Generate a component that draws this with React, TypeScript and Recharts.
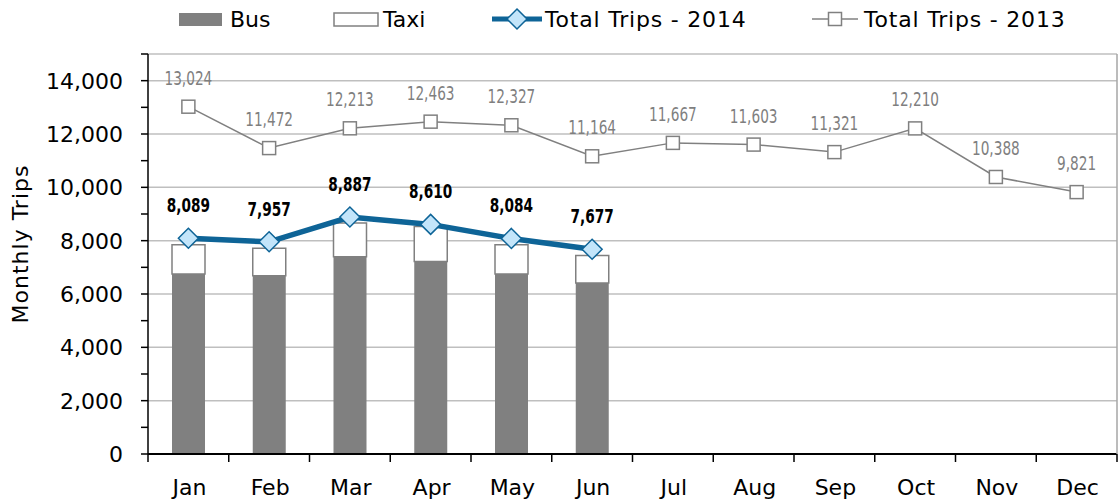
import { ComposedChart, Bar, Line, XAxis, YAxis, CartesianGrid, LabelList } from 'recharts';

const months = ['Jan', 'Feb', 'Mar', 'Apr', 'May', 'Jun', 'Jul', 'Aug', 'Sep', 'Oct', 'Nov', 'Dec'];
const bus = [6750, 6680, 7400, 7220, 6750, 6410, null, null, null, null, null, null];
const taxi = [1100, 1040, 1260, 1310, 1095, 1035, null, null, null, null, null, null];
const trips2014 = [8089, 7957, 8887, 8610, 8084, 7677, null, null, null, null, null, null];
const trips2013 = [13024, 11472, 12213, 12463, 12327, 11164, 11667, 11603, 11321, 12210, 10388, 9821];
const yTicks = [0, 1000, 2000, 3000, 4000, 5000, 6000, 7000, 8000, 9000, 10000, 11000, 12000, 13000, 14000, 15000];
const gridValues = [2000, 4000, 6000, 8000, 10000, 12000, 14000, 15000];

const data = months.map((m, i) => ({
  month: m,
  bus: bus[i],
  taxi: taxi[i],
  t2014: trips2014[i],
  t2013: trips2013[i],
}));

const FONT = "'DejaVu Sans', sans-serif";
const NARROW = "'DejaVu Sans Condensed', 'DejaVu Sans', sans-serif";
const BLUE = '#0E6497';
const GRAY = '#808080';

const fmt = (v: any) => (v == null ? '' : Number(v).toLocaleString('en-US'));

// condensed data label, squeezed horizontally like the original's narrow face
const makeLabel = (offset: number, fill: string, weight: string) => (p: any) => {
  if (p.value == null || p.x == null) return <g />;
  const cx = p.x + (p.width || 0) / 2;
  const cy = p.y - offset;
  return (
    <text
      transform={`translate(${cx},${cy}) scale(0.8,1)`}
      textAnchor="middle"
      fontFamily={NARROW}
      fontSize={19}
      fontWeight={weight}
      fill={fill}
    >
      {fmt(p.value)}
    </text>
  );
};

const YTick = (p: any) => {
  const v = p.payload.value;
  if (v % 2000 !== 0 || v > 14000) return <g />;
  return (
    <text x={p.x} y={p.y} dy={8} textAnchor="end" fontFamily={FONT} fontSize={22} fill="#000">
      {fmt(v)}
    </text>
  );
};

const XTick = (p: any) => {
  const band = p.width / (p.visibleTicksCount || 12);
  const last = p.index === (p.visibleTicksCount || 12) - 1;
  return (
    <g>
      <line x1={p.x - band / 2} x2={p.x - band / 2} y1={p.y} y2={p.y + 8} stroke="#000" strokeWidth={1.5} />
      {last && <line x1={p.x + band / 2} x2={p.x + band / 2} y1={p.y} y2={p.y + 8} stroke="#000" strokeWidth={1.5} />}
      <text x={p.x + 1} y={p.y} dy={41} textAnchor="middle" fontFamily={FONT} fontSize={22} fill="#000">
        {p.payload.value}
      </text>
    </g>
  );
};

const Diamond = (p: any) => {
  if (p.cx == null || p.cy == null || p.value == null) return <g key={p.index} />;
  const r = 10;
  return (
    <path
      key={p.index}
      d={`M${p.cx},${p.cy - r} L${p.cx + r},${p.cy} L${p.cx},${p.cy + r} L${p.cx - r},${p.cy} Z`}
      fill="#C3E5FA"
      stroke={BLUE}
      strokeWidth={1.5}
    />
  );
};

const Square = (p: any) => {
  if (p.cx == null || p.cy == null) return <g key={p.index} />;
  const r = 6.5;
  return <rect key={p.index} x={p.cx - r} y={p.cy - r} width={r * 2} height={r * 2} fill="#fff" stroke={GRAY} strokeWidth={1.5} />;
};

function LegendBar() {
  const item = (left: number) =>
    ({ position: 'absolute', left, top: 4, display: 'flex', alignItems: 'center', whiteSpace: 'nowrap' }) as const;
  return (
    <div style={{ fontFamily: FONT, fontSize: 22, color: '#000' }}>
      <div style={item(179)}>
        <svg width={51} height={30}>
          <rect x={0} y={9} width={43} height={13} fill={GRAY} />
        </svg>
        <span>Bus</span>
      </div>
      <div style={item(333)}>
        <svg width={50} height={30}>
          <rect x={1} y={9} width={44} height={13} fill="#fff" stroke={GRAY} strokeWidth={1.5} />
        </svg>
        <span>Taxi</span>
      </div>
      <div style={item(492)}>
        <svg width={53} height={30}>
          <line x1={0} x2={50} y1={15} y2={15} stroke={BLUE} strokeWidth={5} />
          <path d="M25,5 L35,15 L25,25 L15,15 Z" fill="#C3E5FA" stroke={BLUE} strokeWidth={1.5} />
        </svg>
        <span style={{ letterSpacing: 0.8 }}>Total Trips - 2014</span>
      </div>
      <div style={item(812)}>
        <svg width={52} height={30}>
          <line x1={0} x2={46} y1={15} y2={15} stroke={GRAY} strokeWidth={1.5} />
          <rect x={16.5} y={8.5} width={13} height={13} fill="#fff" stroke={GRAY} strokeWidth={1.5} />
        </svg>
        <span style={{ letterSpacing: 0.8 }}>Total Trips - 2013</span>
      </div>
    </div>
  );
}

export default function App() {
  return (
    <div style={{ position: 'absolute', left: 0, top: 0, width: 1119, height: 504, background: '#fff' }}>
      <ComposedChart width={1119} height={504} data={data} margin={{ top: 54, right: 1, bottom: 0, left: 0 }}>
        <CartesianGrid yAxisId="l" vertical={false} horizontalValues={gridValues} stroke="#BFBFBF" strokeWidth={1.5} />
        <XAxis
          dataKey="month"
          height={50}
          axisLine={{ stroke: '#000', strokeWidth: 2 }}
          tickLine={false}
          tickSize={0}
          tickMargin={0}
          tick={<XTick />}
          interval={0}
        />
        <YAxis
          yAxisId="l"
          width={148}
          domain={[0, 15000]}
          ticks={yTicks}
          interval={0}
          axisLine={{ stroke: '#000', strokeWidth: 1.5 }}
          tickLine={{ stroke: '#000', strokeWidth: 1.5 }}
          tickSize={7}
          tickMargin={18}
          tick={<YTick />}
          label={({ viewBox }: any) => {
            const cx = 20;
            const cy = viewBox.y + viewBox.height / 2 - 10;
            return (
              <text x={cx} y={cy} transform={`rotate(-90, ${cx}, ${cy})`} textAnchor="middle" dominantBaseline="central" fontFamily={FONT} fontSize={22} letterSpacing={1} fill="#000">
                Monthly Trips
              </text>
            );
          }}
        />
        <YAxis yAxisId="r" orientation="right" width={1} domain={[0, 15000]} tick={false} tickLine={false} axisLine={{ stroke: '#A6A6A6', strokeWidth: 1.5 }} />
        <Bar yAxisId="l" dataKey="bus" stackId="a" fill={GRAY} barSize={33} isAnimationActive={false} />
        <Bar yAxisId="l" dataKey="taxi" stackId="a" fill="#fff" stroke={GRAY} strokeWidth={1.5} barSize={33} isAnimationActive={false} />
        <Line yAxisId="l" dataKey="t2013" stroke={GRAY} strokeWidth={1.5} dot={<Square />} activeDot={false} isAnimationActive={false}>
          <LabelList dataKey="t2013" content={makeLabel(22, '#7F7F7F', 'normal')} />
        </Line>
        <Line yAxisId="l" dataKey="t2014" stroke={BLUE} strokeWidth={5.5} dot={<Diamond />} activeDot={false} isAnimationActive={false}>
          <LabelList dataKey="t2014" content={makeLabel(26, '#000', 'bold')} />
        </Line>
      </ComposedChart>
      <LegendBar />
    </div>
  );
}
